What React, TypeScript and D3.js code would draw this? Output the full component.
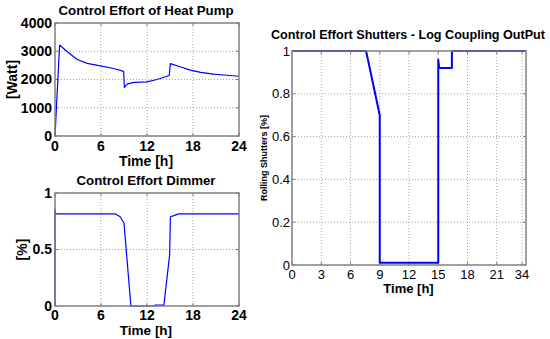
import React from "react";
import * as d3 from "d3";

const hpTime = [0, 0.6, 1.6, 2.9, 4.2, 5.9, 7.65, 8.95, 9.05, 9.4, 10.3, 12, 13.3, 14.9, 15.05, 16.3, 17.65, 19, 20.7, 22.4, 24];
const hpWatt = [0, 3220, 2980, 2710, 2570, 2480, 2390, 2290, 1720, 1835, 1900, 1915, 2000, 2140, 2560, 2450, 2330, 2250, 2190, 2150, 2115];

const dimTime = [0, 0, 0.05, 7.9, 8.5, 9.0, 9.9, 13, 13.05, 14.2, 14.95, 15.05, 15.5, 16.1, 24];
const dimVal = [0, 0.86, 0.815, 0.815, 0.79, 0.735, 0, 0, 0.008, 0.008, 0.45, 0.79, 0.8, 0.815, 0.815];

const shTime = [0, 7.6, 9, 9, 15, 15, 15.1, 16.4, 16.4, 24];
const shVal = [1, 1, 0.7, 0.01, 0.01, 0.96, 0.92, 0.92, 1, 1];

const leftXTicks = [0, 6, 12, 18, 24];
const hpYTicks = [0, 1000, 2000, 3000, 4000];
const dimYTicks = [0, 0.5, 1];
const dimYLabels = ["0", "0.5", "1"];
const shXTicks = [0, 3, 6, 9, 12, 15, 18, 21, 23.6];
const shXLabels = ["0", "3", "6", "9", "12", "15", "18", "21", "34"];
const shYTicks = [0, 0.2, 0.4, 0.6, 0.8, 1];
const shYLabels = ["0", "0.2", "0.4", "0.6", "0.8", "1"];

const FONT = "'Liberation Sans', Arial, sans-serif";
const AX = "#808080";
const GRID = "#8c8c8c";
const BLUE = "#0000ff";

type PanelProps = {
  x0: number; x1: number; y0: number; y1: number;
  xDomain: [number, number]; yDomain: [number, number];
  xTicks: number[]; xLabels: string[];
  yTicks: number[]; yLabels: string[];
  xs: number[]; ys: number[];
  title: string; titleX: number; titleY: number; titleLen: number; titleSize: number;
  xlabel: string; xlabelX: number; xlabelY: number; xlabelSize: number;
  ylabel: string; ylabelX: number; ylabelSize: number;
  tickSize: number; tickBold: boolean; lineW: number;
  xLabelY: number; yLabelDx: number;
};

function Panel(p: PanelProps) {
  const xs = d3.scaleLinear().domain(p.xDomain).range([p.x0, p.x1]);
  const ys = d3.scaleLinear().domain(p.yDomain).range([p.y1, p.y0]);
  const pts: [number, number][] = p.xs.map((t, i) => [t, p.ys[i]]);
  const line = d3.line<[number, number]>().x(d => xs(d[0])).y(d => ys(d[1]));
  const fw = p.tickBold ? "bold" : "normal";
  return (
    <g>
      {p.xTicks.filter(t => t > p.xDomain[0] && t < p.xDomain[1]).map((t, i) => (
        <line key={"gx" + i} x1={xs(t)} x2={xs(t)} y1={p.y0} y2={p.y1} stroke={GRID} strokeWidth={0.8} strokeDasharray="1,2" />
      ))}
      {p.yTicks.filter(t => t > p.yDomain[0] && t < p.yDomain[1]).map((t, i) => (
        <line key={"gy" + i} x1={p.x0} x2={p.x1} y1={ys(t)} y2={ys(t)} stroke={GRID} strokeWidth={0.8} strokeDasharray="1,2" />
      ))}
      {p.xTicks.map((t, i) => (
        <g key={"tx" + i}>
          <line x1={xs(t)} x2={xs(t)} y1={p.y1} y2={p.y1 - 3} stroke={AX} />
          <line x1={xs(t)} x2={xs(t)} y1={p.y0} y2={p.y0 + 3} stroke={AX} />
        </g>
      ))}
      {p.yTicks.map((t, i) => (
        <g key={"ty" + i}>
          <line x1={p.x0} x2={p.x0 + 3} y1={ys(t)} y2={ys(t)} stroke={AX} />
          <line x1={p.x1} x2={p.x1 - 3} y1={ys(t)} y2={ys(t)} stroke={AX} />
        </g>
      ))}
      <path d={line(pts) || ""} fill="none" stroke={BLUE} strokeWidth={p.lineW} strokeLinejoin="round" />
      <rect x={p.x0} y={p.y0} width={p.x1 - p.x0} height={p.y1 - p.y0} fill="none" stroke={AX} strokeWidth={1.5} />
      {p.xTicks.map((t, i) => (
        <text key={"lx" + i} x={xs(t)} y={p.xLabelY} textAnchor="middle" fontSize={p.tickSize} fontWeight={fw} fontFamily={FONT} fill="#000">{p.xLabels[i]}</text>
      ))}
      {p.yTicks.map((t, i) => (
        <text key={"ly" + i} x={p.x0 + p.yLabelDx} y={ys(t)} dy="0.35em" textAnchor="end" fontSize={p.tickSize} fontWeight={fw} fontFamily={FONT} fill="#000">{p.yLabels[i]}</text>
      ))}
      <text x={p.titleX} y={p.titleY} textAnchor="middle" fontSize={p.titleSize} fontWeight="bold" fontFamily={FONT} textLength={p.titleLen} lengthAdjust="spacingAndGlyphs">{p.title}</text>
      <text x={p.xlabelX} y={p.xlabelY} textAnchor="middle" fontSize={p.xlabelSize} fontWeight="bold" fontFamily={FONT}>{p.xlabel}</text>
      <text transform={`translate(${p.ylabelX},${(p.y0 + p.y1) / 2}) rotate(-90)`} textAnchor="middle" dy="0.35em" fontSize={p.ylabelSize} fontWeight="bold" fontFamily={FONT}>{p.ylabel}</text>
    </g>
  );
}

export default function App() {
  return (
    <svg width={550} height={339} style={{ position: "absolute", left: 0, top: 0, background: "#fff" }}>
      <rect width={550} height={339} fill="#fff" />
      <Panel x0={55} x1={239} y0={23} y1={136} xDomain={[0, 24]} yDomain={[0, 4000]}
        xTicks={leftXTicks} xLabels={leftXTicks.map(String)} yTicks={hpYTicks} yLabels={hpYTicks.map(String)}
        xs={hpTime} ys={hpWatt}
        title="Control Effort of Heat Pump" titleX={146} titleY={15} titleLen={175} titleSize={13}
        xlabel="Time [h]" xlabelX={146} xlabelY={166} xlabelSize={14}
        ylabel="[Watt]" ylabelX={12} ylabelSize={14}
        tickSize={14} tickBold={true} lineW={1.2} xLabelY={151} yLabelDx={-3} />
      <Panel x0={55} x1={239} y0={193} y1={306} xDomain={[0, 24]} yDomain={[0, 1]}
        xTicks={leftXTicks} xLabels={leftXTicks.map(String)} yTicks={dimYTicks} yLabels={dimYLabels}
        xs={dimTime} ys={dimVal}
        title="Control Effort Dimmer" titleX={146} titleY={185} titleLen={139} titleSize={13}
        xlabel="Time [h]" xlabelX={146} xlabelY={335} xlabelSize={13.5}
        ylabel="[%]" ylabelX={22} ylabelSize={14}
        tickSize={14} tickBold={true} lineW={1.2} xLabelY={320} yLabelDx={-3} />
      <Panel x0={292} x1={526} y0={51} y1={265} xDomain={[0, 24]} yDomain={[0, 1]}
        xTicks={shXTicks} xLabels={shXLabels} yTicks={shYTicks} yLabels={shYLabels}
        xs={shTime} ys={shVal}
        title="Control Effort Shutters - Log Coupling OutPut" titleX={408} titleY={39} titleLen={274} titleSize={12}
        xlabel="Time [h]" xlabelX={408.5} xlabelY={293} xlabelSize={13}
        ylabel="Rolling Shutters [%]" ylabelX={264} ylabelSize={9}
        tickSize={13} tickBold={false} lineW={2} xLabelY={279} yLabelDx={-2} />
    </svg>
  );
}
